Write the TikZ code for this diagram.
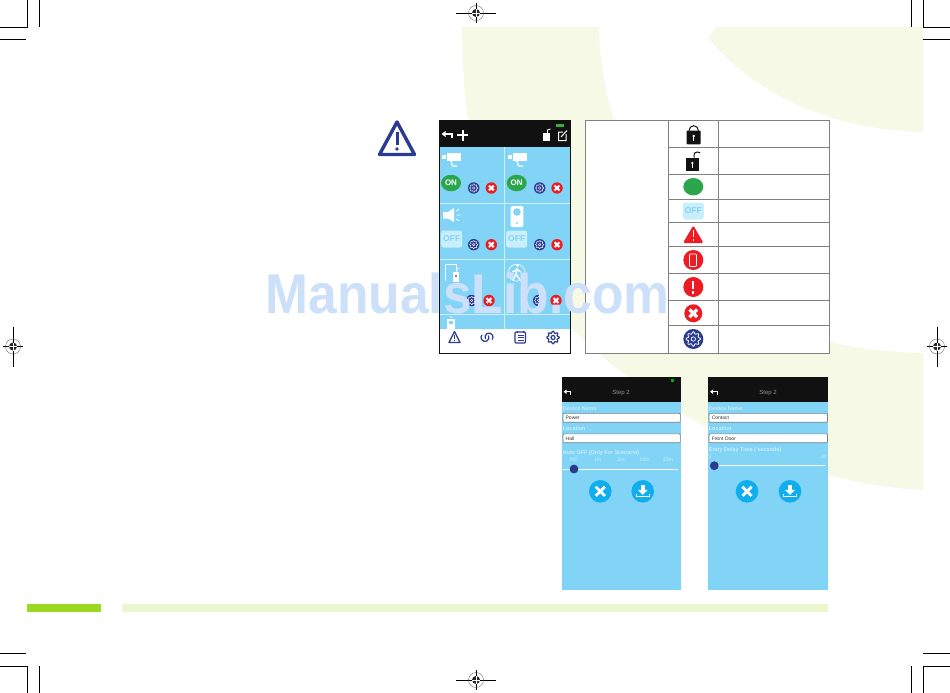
\documentclass[tikz,border=0pt]{standalone}
\usetikzlibrary{shapes.geometric}
\usepackage{fontspec}
\setmainfont{Liberation Sans}
\definecolor{tint}{HTML}{F5F9E6}
\definecolor{barlime}{HTML}{9BD821}
\definecolor{barpale}{HTML}{EAF6CF}
\definecolor{appblue}{HTML}{82D4F6}
\definecolor{appblack}{HTML}{111111}
\definecolor{appgreen}{HTML}{2CA64C}
\definecolor{appred}{HTML}{ED1C24}
\definecolor{appnavy}{HTML}{2B3A92}
\definecolor{appcyan}{HTML}{0FAEEF}
\definecolor{offbox}{HTML}{C9EEFC}
\definecolor{gridgray}{HTML}{808080}
\definecolor{hintblue}{HTML}{CDEDFA}
\definecolor{markblue}{HTML}{CCE0F9}
% small icons, all take x, y and radius
\newcommand{\crossicon}[3]{
    \fill[appred] (#1,#2) circle (#3pt);
    \draw[white, line width=0.36*#3 pt] ({#1-0.42*#3},{#2-0.42*#3}) -- ({#1+0.42*#3},{#2+0.42*#3})
        ({#1-0.42*#3},{#2+0.42*#3}) -- ({#1+0.42*#3},{#2-0.42*#3});
}
\newcommand{\gearicon}[3]{
    \fill[appnavy] (#1,#2) circle (#3pt);
    \draw[white, line width=0.08*#3 pt, shift={(#1,#2)}] plot[smooth cycle, domain=0:352, samples=45] (\x:{#3*(0.62+0.11*cos(8*\x))});
    \draw[white, line width=0.07*#3 pt] (#1,#2) circle ({0.22*#3});
}
\newcommand{\camicon}[2]{
    \fill[white] (#1,#2) rectangle ++(14,8);
    \fill[white] ({#1-5},{#2+1.5}) rectangle ++(3.5,4.5);
    \draw[white, line width=1.3pt] ({#1+4},{#2+8}) -- ++(1.5,5) -- ++(4.5,0);
}
\newcommand{\buttonpair}[3]{
    \fill[appcyan] (#1,#3) circle (11.3pt);
    \draw[white, line width=2.8pt] ({#1-4.6},{#3-4.6}) -- ({#1+4.6},{#3+4.6}) ({#1-4.6},{#3+4.6}) -- ({#1+4.6},{#3-4.6});
    \fill[appcyan] (#2,#3) circle (11.3pt);
    \fill[white] ({#2-1.8},{#3-6.5}) rectangle ({#2+1.8},{#3-1});
    \fill[white] ({#2-5},{#3-1.5}) -- ({#2+5},{#3-1.5}) -- (#2,{#3+3.5}) -- cycle;
    \draw[white, line width=1.3pt] ({#2-6.5},{#3+2.5}) -- ({#2-6.5},{#3+5.5}) -- ({#2+6.5},{#3+5.5}) -- ({#2+6.5},{#3+2.5});
}
\newcommand{\regmark}[4]{
    \draw[black, line width=0.7pt] ({#1-#3},#2) -- ({#1+#3},#2) (#1,{#2-#4}) -- (#1,{#2+#4});
    \draw[black!70, line width=0.3pt] (#1,#2) circle (7.5pt);
    \fill[black!85] (#1,#2) circle (4pt);
    \draw[white, line width=0.4pt] ({#1-4},#2) -- ({#1+4},#2) (#1,{#2-4}) -- (#1,{#2+4});
}
\begin{document}
\begin{tikzpicture}[x=1pt, y=-1pt]
        % Define styles
        \tikzstyle{hint}=[text=hintblue, inner sep=0pt, anchor=west, font=\fontsize{5.4}{6}\selectfont\bfseries]
        \tikzstyle{tick}=[text=hintblue, inner sep=0pt, font=\fontsize{5.2}{6}\selectfont]
        \tikzstyle{inputbox}=[draw=gridgray, fill=white, rounded corners=1pt, line width=0.6pt, minimum height=8.8pt, inner sep=0pt, anchor=west, text depth=0pt, font=\fontsize{5}{6}\selectfont, text=black!80]
        \tikzstyle{offbtn}=[fill=offbox, rounded corners=2.5pt, minimum width=21pt, minimum height=17pt, inner sep=0pt, text=appblue, font=\fontsize{8.5}{9}\selectfont\bfseries]
        \tikzstyle{onbtn}=[ellipse, fill=appgreen, minimum width=20pt, minimum height=16.5pt, inner sep=0pt, text=white, font=\fontsize{8}{9}\selectfont\bfseries]
        \tikzstyle{tabline}=[gridgray, line width=0.8pt]
        \tikzstyle{navline}=[appnavy, line width=1.2pt]
        \tikzstyle{steptitle}=[text=gray!85, font=\fontsize{6}{7}\selectfont]

        \useasboundingbox (0,0) rectangle (950,693);
        \fill[white] (0,0) rectangle (950,693);

        % Background shapes
        \fill[tint] (462,27) -- (599,27)
            .. controls (600,130) and (660,290) .. (830,342) .. controls (860,349) and (890,352) .. (923,353)
            -- (923,490) .. controls (760,482) and (560,370) .. (490,210) .. controls (470,160) and (462,90) .. (462,27) -- cycle;
        \fill[tint] (717,27) -- (923,27) -- (923,132) .. controls (840,130) and (760,100) .. (708,38) -- cycle;

        % Footer bars
        \fill[barlime] (27,604) rectangle (101,612);
        \fill[barpale] (122,604) rectangle (828,612);

        % Crop marks
        \draw[black, line width=0.7pt] (27,0) -- (27,27) -- (0,27) (39,0) -- (39,27) (0,39) -- (26,39);
        \draw[black, line width=0.7pt] (911,0) -- (911,27) (923,0) -- (923,27) -- (950,27) (923,39) -- (950,39);
        \draw[black, line width=0.7pt] (0,653) -- (26,653) (0,666) -- (27,666) -- (27,693) (39,666) -- (39,693);
        \draw[black, line width=0.7pt] (923,653) -- (950,653) (950,666) -- (923,666) -- (923,693) (911,666) -- (911,693);
        \regmark{476}{13}{20}{10}
        \regmark{476}{680}{20}{10}
        \regmark{13}{346.5}{10}{20}
        \regmark{937}{346.5}{10}{20}

        % Warning sign
        \draw[appnavy, line width=3.4pt, line join=round] (397,122) -- (379.5,154.5) -- (414.5,154.5) -- cycle;
        \draw[appnavy, line width=3pt] (397,132) -- (397,144.5);
        \fill[appnavy] (397,149) circle (1.8pt);

        % Main phone
        \fill[white] (439.5,120) rectangle (570,353);
        \fill[appblack] (439.5,120) rectangle (570,147);
        \fill[appblue] (440,147) rectangle (569.5,329);
        \draw[white!60!appblue, line width=0.7pt] (504,147) -- (504,329)
            (440,203) -- (569.5,203) (440,259) -- (569.5,259) (440,314) -- (569.5,314);
        \draw[appblack, line width=1pt] (439.5,120) rectangle (570,353);
        \fill[green!60!black!80!white] (556,123.7) rectangle (564,126.7);
        % header icons
        \draw[white, line width=1.4pt] (444,134) -- (452,134) -- (452,137.5);
        \fill[white] (441.5,134) -- (445.5,131) -- (445.5,137) -- cycle;
        \draw[white, line width=2pt] (457,135.3) -- (468,135.3) (462.5,130) -- (462.5,140.5);
        \fill[white] (543,133) rectangle (550,140.5);
        \draw[white, line width=0.8pt] (547.5,133) -- (547.5,130) -- (550.5,129);
        \draw[white, line width=1pt] (566,134) -- (566,140.5) -- (558.5,140.5) -- (558.5,132) -- (563,132) (561,137) -- (567,130.5);
        % first row
        \camicon{447}{153}
        \camicon{513}{153}
        \node[onbtn] (onleft) at (451,183) {ON};
        \node[onbtn] (onright) at (516.7,183) {ON};
        \gearicon{473.7}{188}{5.7}
        \crossicon{491.3}{188}{5.7}
        \gearicon{539.7}{188}{5.7}
        \crossicon{557}{188}{5.7}
        % second row
        \fill[white] (443,212) -- (448,212) -- (454,208) -- (454,222) -- (448,218.5) -- (443,218.5) -- cycle;
        \draw[white, line width=0.7pt] (456,211) -- (459,209.5) (456.5,215) -- (460,215) (456,219) -- (459,220.5);
        \fill[white, rounded corners=1.5pt] (510.7,206) rectangle (523.3,227);
        \fill[appblue] (517,212) circle (3.8pt);
        \fill[appblue] (517,223) circle (1.2pt);
        \node[offbtn] (offleft) at (451.7,239) {OFF};
        \node[offbtn] (offright) at (516.7,239) {OFF};
        \gearicon{473.7}{244.7}{5.7}
        \crossicon{491.3}{244.7}{5.7}
        \gearicon{539.7}{244.7}{5.7}
        \crossicon{557}{244.7}{5.7}
        % third row
        \draw[white, line width=0.6pt] (445,281) -- (445,264) -- (456,264) -- (456,271);
        \fill[white] (453,272) rectangle (459,282);
        \draw[white, line width=0.6pt] (457,272) -- (457,268.5) -- (460,268);
        \fill[appblack] (456,276) circle (0.9pt);
        \draw[white, line width=0.6pt] (516.7,272.7) circle (8.5pt);
        \draw[white, line width=1.4pt] (517,268) -- (516,274) -- (513,280) (516,274) -- (520,280) (512.5,272) -- (517,269.5) -- (521,272);
        \fill[white] (517.5,265.5) circle (1.5pt);
        \gearicon{471.7}{300.5}{5.7}
        \crossicon{489}{300.5}{5.7}
        \gearicon{538.7}{300.5}{5.7}
        \crossicon{556}{300.5}{5.7}
        % fourth row
        \fill[white] (447,319) rectangle (455,329);
        \fill[appblue] (449,321) rectangle (453,324);
        \fill[white] (451,317) circle (0.9pt);
        % bottom bar
        \draw[navline, line join=round] (454.5,331.5) -- (449,342.5) -- (460,342.5) -- cycle;
        \draw[navline, line width=0.9pt] (454.5,335) -- (454.5,339) (454.5,340.3) -- (454.5,341.3);
        \draw[navline] (485,337.5) ++(-30:4) arc (-30:220:4);
        \draw[navline] (489,337) ++(150:4) arc (150:400:4);
        \draw[navline, rounded corners=1pt] (515,332) rectangle (525.5,343);
        \draw[navline, line width=0.6pt] (517.5,335) -- (523.5,335) (517.5,337.5) -- (523.5,337.5) (517.5,340) -- (523.5,340) (517.5,331) -- (517.5,333) (523,331) -- (523,333);
        \draw[navline, shift={(553,337.5)}] plot[smooth cycle, domain=0:352, samples=45] (\x:{5.4+0.9*cos(8*\x)});
        \draw[navline] (553,337.5) circle (2pt);

        % Icon table
        \fill[white] (585.3,120.3) rectangle (829.3,353.3);
        \foreach \ypos in {147.3,174.3,199.3,222.3,246.3,273.3,300.3,325.3}
            \draw[tabline] (668.3,\ypos) -- (829.3,\ypos);
        \draw[tabline] (668.3,120.3) -- (668.3,353.3) (718.3,120.3) -- (718.3,353.3);
        \draw[tabline] (585.3,120.3) rectangle (829.3,353.3);
        % lock closed
        \fill[appblack, rounded corners=0.8pt] (686.7,130.7) rectangle (700.7,144.3);
        \draw[appblack, line width=1pt] (689,130.7) arc (180:360:4.7 and 5);
        \fill[white] (693.7,136) circle (1.4pt);
        \draw[white, line width=0.9pt] (693.7,136) -- (693.7,141);
        % lock open
        \fill[appblack] (686,157.7) rectangle (698.7,170.7);
        \draw[appblack, line width=1pt] (694,157.7) -- (694,154.5) arc (180:320:3.5 and 2.5);
        \fill[white] (692.3,163) circle (1.3pt);
        \draw[white, line width=0.9pt] (692.3,163) -- (692.3,168);
        % status signs
        \fill[appgreen] (693.3,186.7) ellipse (10pt and 8.7pt);
        \node[offbtn] (offtable) at (693.3,211) {OFF};
        \fill[appred, rounded corners=2pt] (693.3,225.5) -- (703.5,243) -- (683,243) -- cycle;
        \draw[white, line width=1.2pt] (693.3,230) -- (693.3,237) (693.3,238.8) -- (693.3,240.8);
        \fill[appred] (693.3,260) circle (10pt);
        \draw[white, line width=0.7pt, rounded corners=0.8pt] (689.5,254) rectangle (696.5,266.5);
        \fill[appred] (693.3,287) circle (10pt);
        \draw[white, line width=2pt] (693.3,281) -- (693.3,289) (693.3,291) -- (693.3,294);
        \crossicon{693.3}{313.3}{9}
        \gearicon{693.3}{339}{10}

        % Step 2 phone, power
        \fill[appblue] (561.7,401.7) rectangle (680.7,590);
        \fill[appblack] (561.7,377.3) rectangle (680.7,401.7);
        \fill[green!70!black] (670.5,379) rectangle (673.5,381.5);
        \draw[white, line width=0.9pt] (565,391.7) -- (570.5,391.7) -- (570.5,394.5);
        \fill[white] (563.5,391.7) -- (566.5,389.5) -- (566.5,393.9) -- cycle;
        \node[steptitle] (titleleft) at (621,392.7) {Step 2};
        \node[hint] (nameleft) at (562.7,408.7) {Device Name};
        \node[inputbox, minimum width=117.3pt, text width=115pt] (powerbox) at (562.7,417.8) {\hspace{1.5pt}Power};
        \node[hint] (placeleft) at (562.7,429) {Location};
        \node[inputbox, minimum width=117.3pt, text width=115pt] (hallbox) at (562.7,438.3) {\hspace{1.5pt}Hall};
        \node[hint] (autooff) at (562.7,453) {Auto OFF (Only For Scenario)};
        \foreach \xpos/\txt in {574/NO,597.7/1m,621/2m,644.7/10m,668/30m}
            \node[tick] (tick\txt) at (\xpos,460) {\txt};
        \draw[white, line width=1pt] (562.7,469) -- (678,469);
        \fill[appnavy] (574,469) circle (4.4pt);
        \buttonpair{600.3}{642.7}{491.3}

        % Step 2 phone, contact
        \fill[appblue] (708.3,401.7) rectangle (827.7,590);
        \fill[appblack] (708.3,377.3) rectangle (827.7,401.7);
        \draw[white, line width=0.9pt] (711.5,391.7) -- (717,391.7) -- (717,394.5);
        \fill[white] (710,391.7) -- (713,389.5) -- (713,393.9) -- cycle;
        \node[steptitle] (titleright) at (768,392.7) {Step 2};
        \node[hint] (nameright) at (708.7,408.7) {Device Name};
        \node[inputbox, minimum width=118.5pt, text width=116pt] (contactbox) at (708.7,417.8) {\hspace{1.5pt}Contact};
        \node[hint] (placeright) at (708.7,429) {Location};
        \node[inputbox, minimum width=118.5pt, text width=116pt] (doorbox) at (708.7,438.3) {\hspace{1.5pt}Front Door};
        \node[hint] (entrydelay) at (708.7,450.3) {Entry Delay Time ( seconds)};
        \node[tick] (tickmin) at (710,456.7) {0};
        \node[tick] (tickmax) at (823.7,456.7) {30};
        \draw[white, line width=1pt] (710,465.7) -- (825,465.7);
        \fill[appnavy] (714.3,465.7) circle (4.4pt);
        \buttonpair{747}{790}{491.3}

        % Watermark on top
        \node[text=markblue, inner sep=0pt, xscale=0.92, font=\fontsize{56}{60}\selectfont\bfseries] (watermark) at (467.5,293) {ManualsLib.com};
\end{tikzpicture}
\end{document}
